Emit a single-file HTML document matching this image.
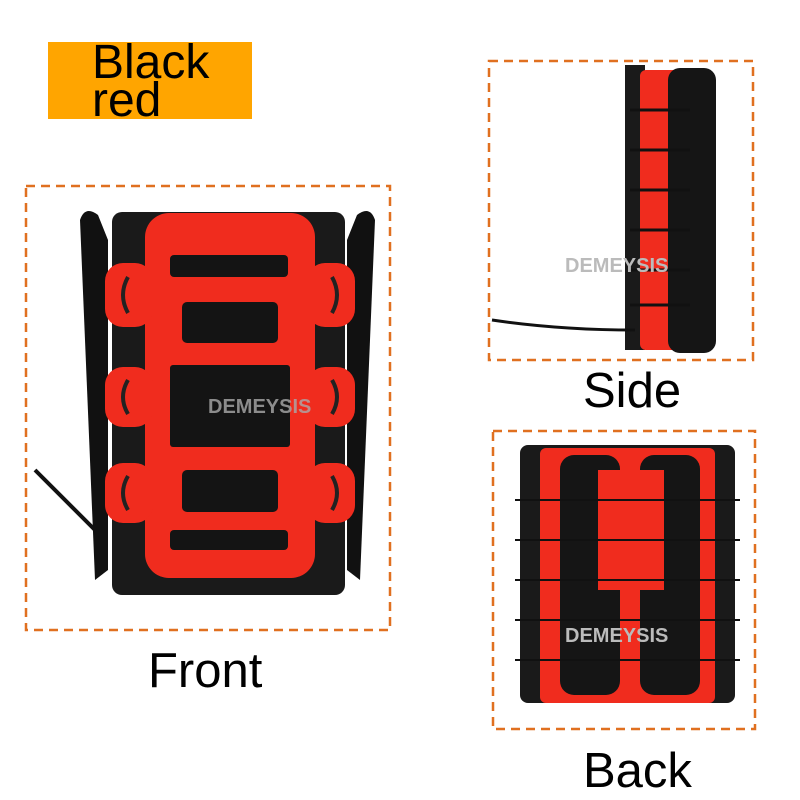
<!DOCTYPE html>
<html><head><style>
body{margin:0;width:800px;height:800px;background:#fff;overflow:hidden;position:relative;font-family:"Liberation Sans",sans-serif}
.t{position:absolute;color:#000;font-size:49px;line-height:49px}
</style></head><body>
<div style="position:absolute;left:48px;top:42px;width:204px;height:77px;background:#FFA500"></div>
<div class="t" style="left:92px;top:44px;font-size:48px;line-height:38px">Black<br>red</div>
<div class="t" style="left:148px;top:647px">Front</div>
<div class="t" style="left:583px;top:367px">Side</div>
<div class="t" style="left:583px;top:747px">Back</div>
<svg width="800" height="800" style="position:absolute;left:0;top:0">
<g fill="none" stroke="#E07020" stroke-width="2.5" stroke-dasharray="9,6">
<rect x="26" y="186" width="364" height="444"/>
<rect x="489" y="61" width="264" height="299"/>
<rect x="493" y="431" width="262" height="298"/>
</g>
<!-- Front -->
<path d="M80 220 Q85 205 98 215 L108 240 L108 570 L95 580 Z" fill="#111"/>
<path d="M375 220 Q370 205 357 215 L347 240 L347 570 L360 580 Z" fill="#111"/>
<rect x="112" y="212" width="233" height="383" rx="10" fill="#1a1a1a"/>
<line x1="35" y1="470" x2="100" y2="535" stroke="#111" stroke-width="4"/>
<rect x="145" y="213" width="170" height="365" rx="24" fill="#F02C1E"/>
<g fill="#F02C1E">
<rect x="105" y="263" width="48" height="64" rx="18"/><rect x="105" y="367" width="48" height="60" rx="18"/><rect x="105" y="463" width="48" height="60" rx="18"/>
<rect x="307" y="263" width="48" height="64" rx="18"/><rect x="307" y="367" width="48" height="60" rx="18"/><rect x="307" y="463" width="48" height="60" rx="18"/>
</g>
<g fill="#141414">
<rect x="170" y="255" width="118" height="22" rx="4"/>
<rect x="182" y="302" width="96" height="41" rx="5"/>
<rect x="170" y="365" width="120" height="82" rx="3"/>
<rect x="182" y="470" width="96" height="42" rx="5"/>
<rect x="170" y="530" width="118" height="20" rx="4"/>
</g>
<g fill="none" stroke="#222" stroke-width="4">
<path d="M128 277 Q118 295 128 313"/><path d="M128 380 Q118 397 128 414"/><path d="M128 476 Q118 493 128 510"/>
<path d="M332 277 Q342 295 332 313"/><path d="M332 380 Q342 397 332 414"/><path d="M332 476 Q342 493 332 510"/>
</g>
<text x="208" y="413" font-family="Liberation Sans" font-weight="bold" font-size="20" fill="#aaa" opacity="0.8">DEMEYSIS</text>
<!-- Side -->
<rect x="625" y="65" width="20" height="285" fill="#1a1a1a"/>
<rect x="640" y="70" width="40" height="280" rx="6" fill="#F02C1E"/>
<rect x="668" y="68" width="48" height="285" rx="12" fill="#151515"/>
<g stroke="#111" stroke-width="3">
<line x1="630" y1="110" x2="690" y2="110"/><line x1="630" y1="150" x2="690" y2="150"/><line x1="630" y1="190" x2="690" y2="190"/><line x1="630" y1="230" x2="690" y2="230"/><line x1="630" y1="270" x2="690" y2="270"/><line x1="630" y1="305" x2="690" y2="305"/>
</g>
<path d="M492 320 Q560 330 635 330" stroke="#111" stroke-width="3" fill="none"/>
<text x="565" y="272" font-family="Liberation Sans" font-weight="bold" font-size="20" fill="#bbb">DEMEYSIS</text>
<!-- Back -->
<rect x="520" y="445" width="215" height="258" rx="8" fill="#1a1a1a"/>
<rect x="540" y="448" width="175" height="255" rx="6" fill="#F02C1E"/>
<rect x="560" y="455" width="60" height="240" rx="14" fill="#151515"/>
<rect x="640" y="455" width="60" height="240" rx="14" fill="#151515"/>
<rect x="598" y="470" width="66" height="120" fill="#F02C1E"/>
<g stroke="#111" stroke-width="2">
<line x1="515" y1="500" x2="740" y2="500"/><line x1="515" y1="540" x2="740" y2="540"/><line x1="515" y1="580" x2="740" y2="580"/><line x1="515" y1="620" x2="740" y2="620"/><line x1="515" y1="660" x2="740" y2="660"/>
</g>
<text x="565" y="642" font-family="Liberation Sans" font-weight="bold" font-size="20" fill="#bbb">DEMEYSIS</text>
</svg>
</body></html>
